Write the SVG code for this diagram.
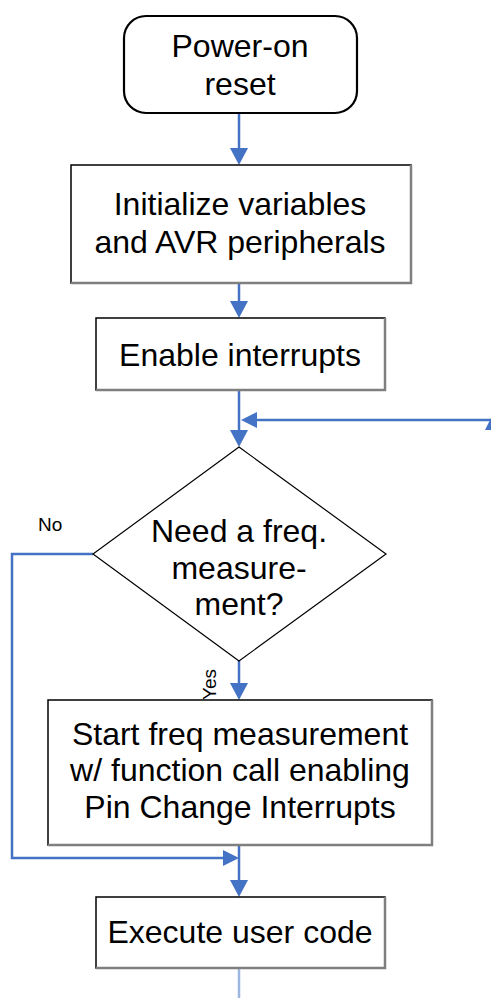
<svg xmlns="http://www.w3.org/2000/svg" width="491" height="998" viewBox="0 0 491 998">
  <style>
    .box { fill: #ffffff; stroke: #000000; stroke-width: 1.5; }
    .shade { stroke: #7f7f7f; stroke-width: 2.5; fill: none; }
    .term { fill: #ffffff; stroke: #000000; stroke-width: 2.2; }
    .dia { fill: #ffffff; stroke: #000000; stroke-width: 1.2; }
    .lbl { font-family: "Liberation Sans", Arial, sans-serif; font-size: 32px; fill: #000000; text-anchor: middle; }
    .small { font-family: "Liberation Sans", Arial, sans-serif; font-size: 19px; fill: #000000; }
    .wire { stroke: #4472c4; stroke-width: 2.5; fill: none; }
    .head { fill: #4472c4; }
  </style>

  <!-- connectors -->
  <g id="connectors">
    <line class="wire" x1="239" y1="113" x2="239" y2="150"/>
    <polygon class="head" points="230,148 248,148 239,165"/>
    <line class="wire" x1="239" y1="283" x2="239" y2="303"/>
    <polygon class="head" points="230,301 248,301 239,318"/>
    <line class="wire" x1="239" y1="390" x2="239" y2="432"/>
    <polygon class="head" points="230,430 248,430 239,447"/>
    <!-- loop-back return -->
    <line class="wire" x1="255" y1="420" x2="491" y2="420"/>
    <polygon class="head" points="241,420 257,412 257,428"/>
    <polygon class="head" points="485,430 491,430 491,418"/>
    <!-- Yes branch -->
    <line class="wire" x1="239" y1="661" x2="239" y2="686"/>
    <polygon class="head" points="230,683 248,683 239,700"/>
    <!-- No branch -->
    <polyline class="wire" points="93,554 12,554 12,858 225,858"/>
    <polygon class="head" points="223,850 223,866 239,858"/>
    <line class="wire" x1="239" y1="845" x2="239" y2="882"/>
    <polygon class="head" points="230,880 248,880 239,897"/>
    <line x1="239" y1="968" x2="239" y2="998" stroke="#9db6e0" stroke-width="2.5"/>
  </g>

  <g id="power-on-reset">
    <rect class="term" x="124" y="16" width="233" height="97" rx="22" ry="22"/>
    <text class="lbl" x="240" y="57">Power-on</text>
    <text class="lbl" x="240" y="95">reset</text>
  </g>

  <g id="initialize">
    <rect class="box" x="71" y="165" width="340" height="118"/>
    <polyline class="shade" points="411,165 411,283 71,283"/>
    <text class="lbl" x="240" y="215">Initialize variables</text>
    <text class="lbl" x="240" y="253">and AVR peripherals</text>
  </g>

  <g id="enable-interrupts">
    <rect class="box" x="96" y="318" width="289" height="72"/>
    <polyline class="shade" points="385,318 385,390 96,390"/>
    <text class="lbl" x="240" y="366">Enable interrupts</text>
  </g>

  <g id="need-measurement">
    <polygon class="dia" points="239,447 386,554 239,661 93,554"/>
    <text class="lbl" x="239" y="542">Need a freq.</text>
    <text class="lbl" x="239" y="579">measure-</text>
    <text class="lbl" x="239" y="615">ment?</text>
    <text class="small" x="38" y="531">No</text>
    <text class="small" transform="translate(216,700) rotate(-90)">Yes</text>
  </g>

  <g id="start-measurement">
    <rect class="box" x="48" y="700" width="384" height="145"/>
    <polyline class="shade" points="432,700 432,845 48,845"/>
    <text class="lbl" x="240" y="745">Start freq measurement</text>
    <text class="lbl" x="240" y="781">w/ function call enabling</text>
    <text class="lbl" x="240" y="818">Pin Change Interrupts</text>
  </g>

  <g id="user-code">
    <rect class="box" x="96" y="897" width="289" height="71"/>
    <polyline class="shade" points="385,897 385,968 96,968"/>
    <text class="lbl" x="240" y="943">Execute user code</text>
  </g>
</svg>
